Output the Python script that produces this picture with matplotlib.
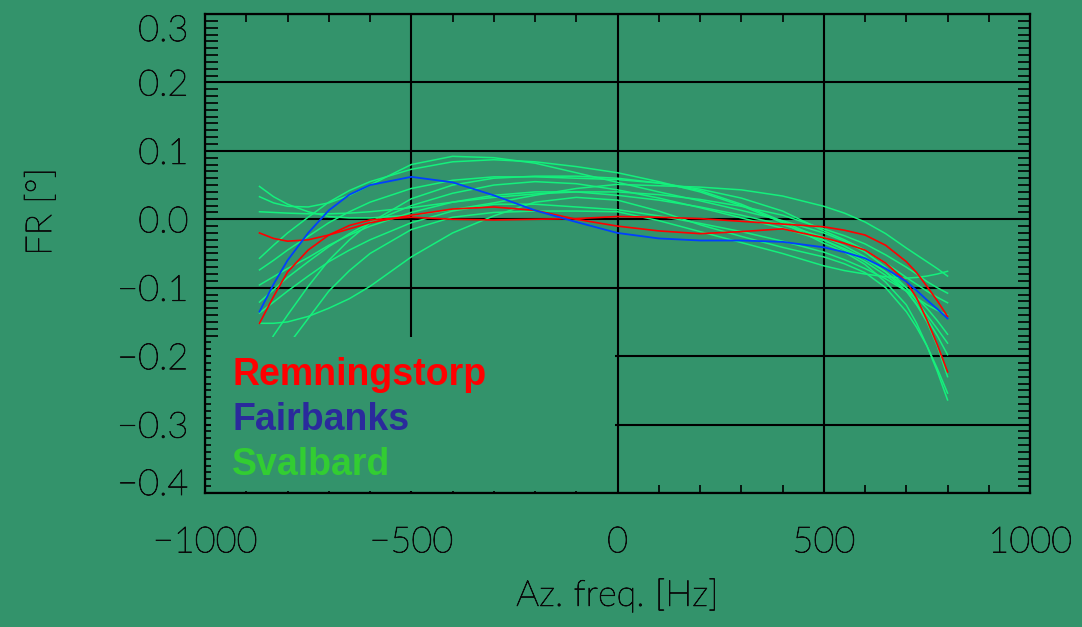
import matplotlib
matplotlib.use("Agg")
import matplotlib.pyplot as plt
import matplotlib.patheffects as pe
from matplotlib.patches import Rectangle
from matplotlib.transforms import ScaledTranslation

# Azimuth frequency sample positions [Hz]
freq_hz = [-868, -834, -800, -750, -700, -650, -600, -500, -400, -300, -200, -100, 0,
           100, 200, 300, 400, 500, 550, 600, 650, 700, 725, 750, 775, 800]

# Frequency-dependent Faraday rotation [deg]
remningstorp_a = [-0.152, -0.113, -0.077, -0.045, -0.023, -0.009, -0.001, 0.003, 0.000, -0.001,
                  0.000, 0.001, 0.004, 0.003, 0.001, -0.003, -0.007, -0.011, -0.016, -0.023,
                  -0.038, -0.062, -0.078, -0.098, -0.119, -0.142]
remningstorp_b = [-0.020, -0.028, -0.032, -0.030, -0.023, -0.014, -0.005, 0.006, 0.015, 0.018,
                  0.013, 0.000, -0.010, -0.017, -0.021, -0.018, -0.014, -0.027, -0.035, -0.045,
                  -0.064, -0.091, -0.115, -0.147, -0.183, -0.223]
fairbanks = [-0.135, -0.095, -0.060, -0.020, 0.013, 0.036, 0.050, 0.062, 0.054, 0.035,
             0.013, -0.004, -0.020, -0.028, -0.031, -0.031, -0.033, -0.041, -0.048, -0.057,
             -0.072, -0.091, -0.104, -0.118, -0.131, -0.145]

svalbard_01 = [0.048, 0.033, 0.022, 0.011, 0.004, 0.002, 0.002, 0.006, 0.014, 0.024, 0.035,
               0.045, 0.051, 0.049, 0.047, 0.043, 0.034, 0.019, 0.009, -0.004, -0.021, -0.042,
               -0.052, -0.062, -0.072, -0.083]
svalbard_02 = [0.033, 0.024, 0.019, 0.018, 0.024, 0.035, 0.050, 0.080, 0.092, 0.090, 0.082,
               0.068, 0.054, 0.040, 0.027, 0.013, -0.002, -0.020, -0.032, -0.048, -0.070, -0.100,
               -0.119, -0.140, -0.160, -0.181]
svalbard_03 = [0.011, 0.010, 0.009, 0.008, 0.008, 0.009, 0.011, 0.017, 0.025, 0.032, 0.037,
               0.040, 0.040, 0.036, 0.029, 0.019, 0.006, -0.014, -0.024, -0.036, -0.052, -0.070,
               -0.080, -0.091, -0.100, -0.108]
svalbard_04 = [-0.057, -0.038, -0.020, 0.003, 0.025, 0.042, 0.055, 0.073, 0.084, 0.087, 0.084,
               0.077, 0.068, 0.055, 0.040, 0.020, -0.005, -0.035, -0.048, -0.066, -0.092, -0.125,
               -0.152, -0.185, -0.218, -0.254]
svalbard_05 = [-0.074, -0.060, -0.045, -0.025, -0.005, 0.011, 0.025, 0.045, 0.057, 0.062, 0.062,
               0.060, 0.058, 0.053, 0.044, 0.031, 0.012, -0.017, -0.030, -0.045, -0.064, -0.085,
               -0.095, -0.105, -0.114, -0.122]
svalbard_06 = [-0.096, -0.084, -0.072, -0.056, -0.038, -0.023, -0.010, 0.010, 0.025, 0.035, 0.040,
               0.040, 0.035, 0.028, 0.018, 0.006, -0.008, -0.026, -0.039, -0.055, -0.077, -0.105,
               -0.124, -0.145, -0.170, -0.198]
svalbard_07 = [-0.121, -0.103, -0.085, -0.062, -0.040, -0.021, -0.005, 0.020, 0.038, 0.050, 0.055,
               0.052, 0.043, 0.031, 0.017, 0.002, -0.013, -0.031, -0.043, -0.058, -0.077, -0.100,
               -0.114, -0.130, -0.148, -0.168]
svalbard_08 = [-0.137, -0.121, -0.105, -0.083, -0.062, -0.045, -0.030, -0.005, 0.012, 0.022, 0.022,
               0.018, 0.014, 0.005, -0.006, -0.018, -0.032, -0.048, -0.059, -0.072, -0.087, -0.105,
               -0.115, -0.125, -0.133, -0.140]
svalbard_09 = [-0.152, -0.152, -0.150, -0.142, -0.130, -0.116, -0.098, -0.055, -0.020, 0.005, 0.025,
               0.032, 0.028, 0.012, -0.008, -0.025, -0.041, -0.055, -0.065, -0.078, -0.100, -0.135,
               -0.158, -0.185, -0.222, -0.264]
svalbard_10 = [-0.205, -0.170, -0.140, -0.098, -0.060, -0.030, -0.005, 0.030, 0.050, 0.060, 0.063,
               0.063, 0.060, 0.053, 0.042, 0.022, -0.003, -0.030, -0.045, -0.062, -0.082, -0.105,
               -0.125, -0.150, -0.185, -0.230]
svalbard_11 = [-0.250, -0.215, -0.185, -0.145, -0.105, -0.075, -0.050, -0.015, 0.003, 0.010, 0.012,
               0.012, 0.011, -0.002, -0.018, -0.034, -0.050, -0.068, -0.075, -0.080, -0.084, -0.086,
               -0.085, -0.083, -0.080, -0.076]

x_ticks = [-1000, -500, 0, 500, 1000]
x_tick_labels = ["\u22121000", "\u2212500", "0", "500", "1000"]
y_ticks = [-0.4, -0.3, -0.2, -0.1, 0.0, 0.1, 0.2, 0.3]
y_tick_labels = ["\u22120.4", "\u22120.3", "\u22120.2", "\u22120.1", "0.0", "0.1", "0.2", "0.3"]

site_names = ["Remningstorp", "Fairbanks", "Svalbard"]
site_text_colors = ["#ff0000", "#2a2a9c", "#32cd32"]

BG = "#33936b"
INK = "#0a0a0a"
thin_font = ["Lato", "DejaVu Sans"]
LABEL_SIZE = 26
# light face, slightly thickened by a thin outline of the same ink
ink_stroke = [pe.withStroke(linewidth=0.6, foreground=INK)]

fig = plt.figure(figsize=(10.82, 6.27), dpi=100, facecolor=BG)
ax = fig.add_axes([0.1895, 0.2137, 0.7625, 0.764], facecolor=BG)

svalbard_curves = [svalbard_01, svalbard_02, svalbard_03, svalbard_04, svalbard_05, svalbard_06,
                   svalbard_07, svalbard_08, svalbard_09, svalbard_10, svalbard_11]
for curve in svalbard_curves:
    ax.plot(freq_hz, curve, color="#14f07c", lw=1.1, zorder=2)
ax.plot(freq_hz, remningstorp_a, color="#ff0000", lw=1.2, zorder=2.1)
ax.plot(freq_hz, remningstorp_b, color="#ff0000", lw=1.2, zorder=2.1)
ax.plot(freq_hz, fairbanks, color="#0040ff", lw=1.3, zorder=2.2)

ax.set_xlim(-1000, 1000)
ax.set_ylim(-0.4, 0.3)

ax.set_xticks(x_ticks)
ax.set_xticklabels(x_tick_labels)
ax.set_yticks(y_ticks)
ax.set_yticklabels(y_tick_labels)
ax.set_xticks(range(-1000, 1001, 100), minor=True)
ax.set_yticks([i / 100 for i in range(-40, 31)], minor=True)

ax.grid(True, which="major", color="black", lw=1.5)
ax.tick_params(axis="both", which="both", direction="in", color="black")
ax.tick_params(axis="x", which="minor", length=5.5, width=1.2, top=True, bottom=True)
ax.tick_params(axis="y", which="minor", length=9, width=1.2, left=True, right=True)
ax.tick_params(axis="x", which="major", length=0, pad=24, labelsize=LABEL_SIZE, labelcolor=INK)
ax.tick_params(axis="y", which="major", length=0, pad=12, labelsize=LABEL_SIZE, labelcolor=INK)

for lab in ax.get_xticklabels() + ax.get_yticklabels():
    lab.set_family(thin_font)
    lab.set_fontweight("light")
    lab.set_path_effects(ink_stroke)

ylabs = ax.get_yticklabels()
ylabs[-1].set_transform(ylabs[-1].get_transform() + ScaledTranslation(0, -0.14, fig.dpi_scale_trans))
ylabs[0].set_transform(ylabs[0].get_transform() + ScaledTranslation(0, 0.11, fig.dpi_scale_trans))

for sp in ax.spines.values():
    sp.set_color("black")
    sp.set_linewidth(1.6)
    sp.set_zorder(4)

ax.set_xlabel("Az. freq. [Hz]", fontsize=LABEL_SIZE, family=thin_font, fontweight="light",
              color=INK, path_effects=ink_stroke)
ax.xaxis.label.set_va("center")
ax.xaxis.set_label_coords(0.5, -0.215)
ax.set_ylabel("FR [\u00b0]", fontsize=LABEL_SIZE, family=thin_font, fontweight="light",
              color=INK, path_effects=ink_stroke)
ax.yaxis.label.set_va("center")
ax.yaxis.set_label_coords(-0.198, 0.587)

# Key panel in the lower-left corner, masking the curves and grid beneath it
ax.add_patch(Rectangle((0.0073, 0.004), 0.4897, 0.3215, transform=ax.transAxes,
                       facecolor=BG, edgecolor="none", zorder=3))
key_rows = [0.2255, 0.1315, 0.0376]
for name, col, yy in zip(site_names, site_text_colors, key_rows):
    ax.text(0.0327, yy, name, transform=ax.transAxes, color=col, fontsize=27,
            family=["Liberation Sans", "DejaVu Sans"], fontweight="bold",
            va="baseline", ha="left", zorder=5)

fig.savefig("out.png", dpi=100, facecolor=BG)
